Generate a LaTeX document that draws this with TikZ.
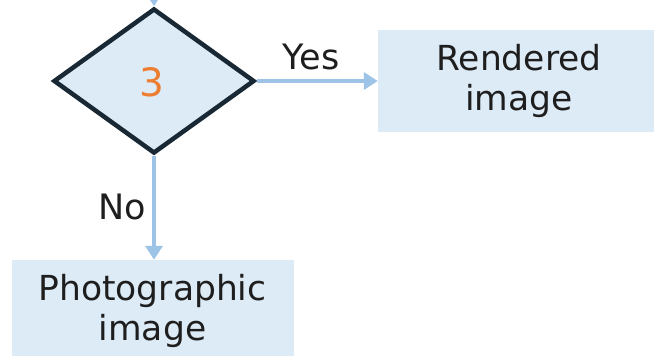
\documentclass[tikz,border=0pt]{standalone}
\usepackage{fontspec}
\setmainfont{DejaVu Sans}
\usepackage{tikz}
\usetikzlibrary{arrows.meta,shapes.geometric,positioning}
\definecolor{boxblue}{RGB}{221,235,247}
\definecolor{arrowblue}{RGB}{157,195,230}
\definecolor{edgedark}{RGB}{24,40,52}
\definecolor{numorange}{RGB}{237,125,49}
\definecolor{textdark}{RGB}{30,30,30}

\begin{document}
\begin{tikzpicture}
[x=1pt,y=-1pt,
decision/.style={diamond,draw=edgedark,fill=boxblue,line width=4.5pt,inner sep=0pt,minimum width=201pt,minimum height=145pt},
outbox/.style={rectangle,fill=boxblue,inner sep=0pt,minimum width=282pt,minimum height=102pt,align=center,text=textdark,font=\fontsize{34.5}{40}\selectfont},
flow/.style={draw=arrowblue,line width=3.5pt,-{Triangle[width=17pt,length=14pt]}},
answer/.style={text=textdark,font=\fontsize{35}{40}\selectfont,inner sep=0pt}]

\useasboundingbox (0,0) rectangle (654,356);
\clip (0,0) rectangle (654,356);

\node[decision] (D) at (154,81) {};
\node[text=numorange,font=\fontsize{39}{44}\selectfont] (N) at (152,82) {3};

\node[outbox] (R) at (519,81) {Rendered\\image};
\node[outbox] (P) at (152.5,311) {Photographic\\image};

\coordinate (top) at (154,-30);

\draw [flow] (top) -- (D.north);
\draw [flow] (D.east) -- (R.west);
\draw [flow] (D.south) -- (D.south |- P.north);

\node[answer] (Y) at (311,57) {Yes};
\node[answer] (No) at (122,207) {No};
\end{tikzpicture}
\end{document}
